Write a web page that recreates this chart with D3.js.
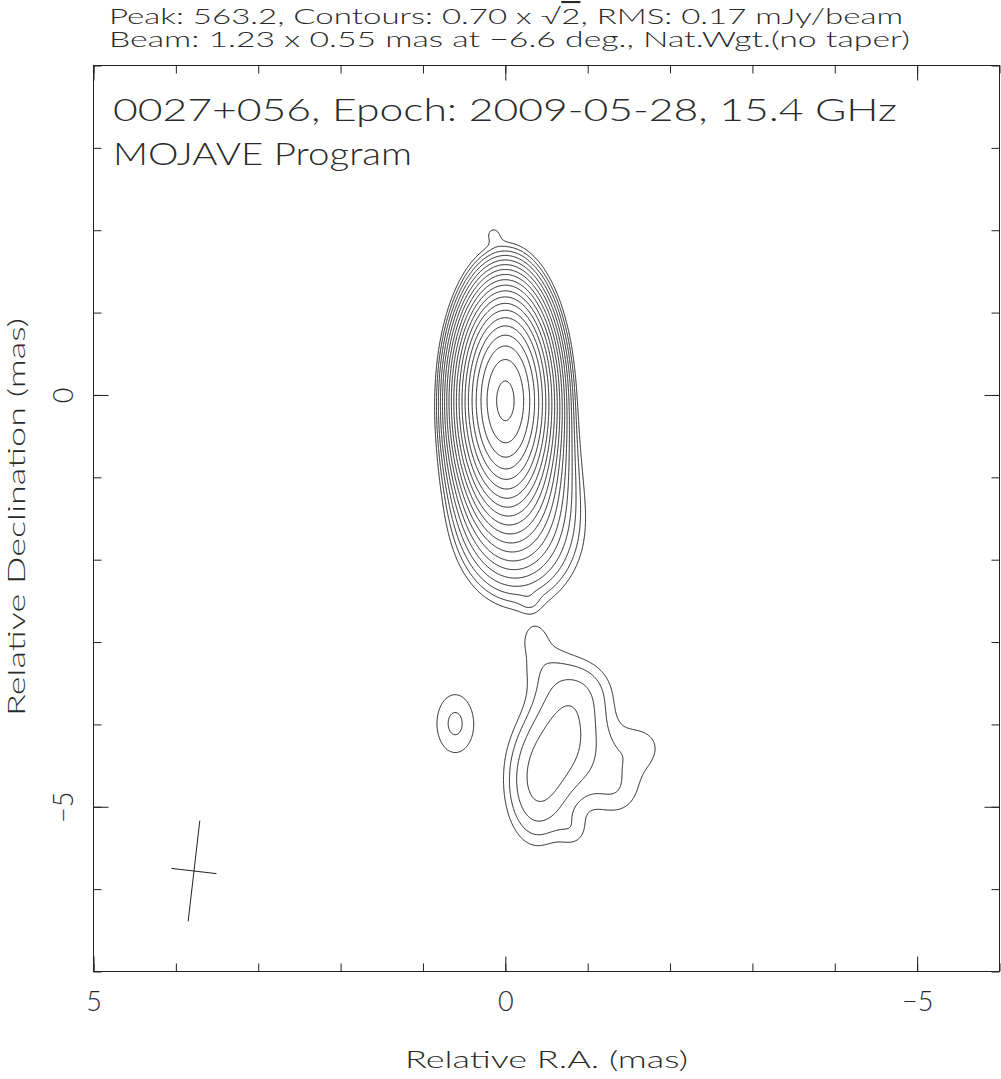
<!DOCTYPE html>
<html>
<head>
<meta charset="utf-8">
<script src="https://cdn.jsdelivr.net/npm/d3@7"></script>
<style>
  body { margin: 0; background: #fff; }
  svg text { font-family: "Lato", sans-serif; font-weight: 300; fill: #2a2a2a; }
</style>
</head>
<body>
<div class="container"></div>
<script>
// ---- data ----
const headerLines = [
  ["Peak: 563.2, Contours: 0.70 x \u221A", "2", ", RMS: 0.17 mJy/beam"],
  ["Beam: 1.23 x 0.55 mas at \u22126.6 deg., Nat.Wgt.(no taper)"]
];
const titleLines = ["0027+056, Epoch: 2009-05-28, 15.4 GHz", "MOJAVE Program"];
const xTitle = "Relative R.A. (mas)";
const yTitle = "Relative Declination (mas)";

const raDomain = [5, -6];
const decDomain = [4, -7];
const xMajor = [5, 0, -5];
const xMinor = d3.range(-6, 6);
const yMajor = [0, -5];
const yMinor = d3.range(-7, 5);

const peakFlux = 563.2;     // mJy/beam
const baseLevel = 0.70;     // lowest contour
const levelStep = Math.SQRT2;

// brightness components: [RA, Dec, peak mJy/beam, FWHM maj, FWHM min, PA deg]
const coreComps = [
  [0.00, -0.06, 555, 1.23, 0.55, 0],
  [-0.08, -0.92, 26, 1.23, 0.70, 0],
  [-0.20, -1.65, 3.0, 1.20, 1.00, 0],
  [0.15, 1.97, 0.55, 0.22, 0.22, 0],
  [-0.30, -2.52, 0.3, 0.20, 0.20, 0]
];
const jetComps = [
  [-0.75, -4.05, 1.7, 1.23, 0.70, 0],
  [-0.38, -4.72, 1.9, 1.23, 0.65, 0],
  [-1.35, -4.45, 0.7, 1.00, 1.00, 0],
  [-1.70, -4.25, 0.4, 0.50, 0.50, 0],
  [-1.35, -4.90, 0.45, 0.60, 0.60, 0],
  [-0.38, -3.20, 0.55, 0.70, 0.60, 0],
  [-0.36, -2.95, 0.35, 0.30, 0.25, 0],
  [-0.85, -5.32, 0.5, 0.40, 0.35, 0],
  [-1.05, -3.55, 0.55, 0.70, 0.70, 0]
];
const knotComps = [
  [0.61, -3.99, 1.05, 0.916, 0.575, 0]
];

const beamSize = [1.23, 0.55];
const beamPA = -6.6;
const beamCenter = [3.78, -5.78];

// ---- layout ----
const width = 1001, height = 1079;
const x = d3.scaleLinear().domain(raDomain).range([93.5, 999.5]);
const y = d3.scaleLinear().domain(decDomain).range([65.5, 971.5]);

const svg = d3.select(".container").append("svg")
  .attr("width", width)
  .attr("height", height)
  .attr("viewBox", [0, 0, width, height]);

const ink = "#222";
const fmt = d => d < 0 ? "\u2212" + (-d) : String(d);

// header (the "2" under the root sign gets its bar)
svg.append("g").selectAll("text")
  .data(headerLines)
  .join("text")
  .attr("x", 109)
  .attr("y", (d, i) => 24 + i * 23)
  .attr("font-size", 21)
  .attr("textLength", (d, i) => i === 0 ? 794 : 801)
  .attr("lengthAdjust", "spacingAndGlyphs")
  .selectAll("tspan")
  .data(d => d)
  .join("tspan")
  .style("text-decoration", (d, i) => i === 1 ? "overline" : null)
  .text(d => d);

// ticks on all four sides
function ticks(axis, tr, vals, size) {
  return svg.append("g")
    .attr("transform", tr)
    .call(axis.tickValues(vals).tickSize(size).tickFormat(""))
    .call(g => g.select(".domain").remove())
    .call(g => g.selectAll("line").attr("stroke", ink));
}
const atBottom = `translate(0,${y.range()[1]})`;
const atTop = `translate(0,${y.range()[0]})`;
const atLeft = `translate(${x.range()[0]},0)`;
const atRight = `translate(${x.range()[1]},0)`;

ticks(d3.axisBottom(x), atBottom, xMinor, -8);
ticks(d3.axisTop(x), atTop, xMinor, -8);
ticks(d3.axisLeft(y), atLeft, yMinor, -8);
ticks(d3.axisRight(y), atRight, yMinor, -8);
ticks(d3.axisTop(x), atTop, xMajor, -15);
ticks(d3.axisRight(y), atRight, yMajor, -15);

svg.append("g")
  .attr("transform", atBottom)
  .call(d3.axisBottom(x).tickValues(xMajor).tickSize(-15).tickPadding(20).tickFormat(fmt))
  .call(g => g.select(".domain").remove())
  .call(g => g.selectAll("line").attr("stroke", ink))
  .call(g => g.selectAll("text").attr("font-size", 27).attr("fill", null));

svg.append("g")
  .attr("transform", atLeft)
  .call(d3.axisLeft(y).tickValues(yMajor).tickSize(-15).tickFormat(fmt))
  .call(g => g.select(".domain").remove())
  .call(g => g.selectAll("line").attr("stroke", ink))
  .call(g => g.selectAll("text")
    .attr("x", null).attr("dy", null)
    .attr("font-size", 27).attr("fill", null)
    .attr("text-anchor", "middle")
    .attr("transform", "translate(-21,0) rotate(-90)"));

// frame
svg.append("rect")
  .attr("x", x.range()[0]).attr("y", y.range()[0])
  .attr("width", x.range()[1] - x.range()[0])
  .attr("height", y.range()[1] - y.range()[0])
  .attr("fill", "none").attr("stroke", ink).attr("stroke-width", 1);

// titles inside the frame
svg.append("g").selectAll("text")
  .data(titleLines)
  .join("text")
  .attr("x", 113)
  .attr("y", (d, i) => 121 + i * 44)
  .attr("font-size", 32)
  .attr("textLength", (d, i) => i === 0 ? 784 : 299)
  .attr("lengthAdjust", "spacingAndGlyphs")
  .text(d => d);

// axis titles
svg.append("text")
  .attr("x", 546.5).attr("y", 1068)
  .attr("text-anchor", "middle")
  .attr("font-size", 23)
  .attr("textLength", 283).attr("lengthAdjust", "spacingAndGlyphs")
  .text(xTitle);

svg.append("text")
  .attr("transform", "translate(25,517) rotate(-90)")
  .attr("text-anchor", "middle")
  .attr("font-size", 23)
  .attr("textLength", 398).attr("lengthAdjust", "spacingAndGlyphs")
  .text(yTitle);

// ---- brightness grid and contours ----
const comps = coreComps.concat(jetComps, knotComps);
const step = 0.01;
const gridRA = [2.5, -3.0];
const gridDec = [3.0, -6.5];
const nx = Math.round((gridRA[0] - gridRA[1]) / step) + 1;
const ny = Math.round((gridDec[0] - gridDec[1]) / step) + 1;
const k4 = 4 * Math.LN2;
const prepped = comps.map(([ra, dec, p, a, b, pa]) => {
  const t = pa * Math.PI / 180;
  return { ra, dec, p, ia: k4 / (a * a), ib: k4 / (b * b), s: Math.sin(t), c: Math.cos(t) };
});
const values = new Float64Array(nx * ny);
for (let j = 0; j < ny; j++) {
  const dec = gridDec[0] - j * step;
  for (let i = 0; i < nx; i++) {
    const ra = gridRA[0] - i * step;
    let v = 0;
    for (const q of prepped) {
      const dx = ra - q.ra, dy = dec - q.dec;
      const u = dx * q.s + dy * q.c;
      const w = dx * q.c - dy * q.s;
      const e = u * u * q.ia + w * w * q.ib;
      if (e < 30) v += q.p * Math.exp(-e);
    }
    values[j * nx + i] = v;
  }
}

const levels = [];
for (let v = baseLevel; v <= peakFlux; v *= levelStep) levels.push(v);

const contours = d3.contours().size([nx, ny]).thresholds(levels)(values);

const toPx = d3.geoTransform({
  point(px, py) {
    this.stream.point(x(gridRA[0] - (px - 0.5) * step), y(gridDec[0] - (py - 0.5) * step));
  }
});
const path = d3.geoPath(toPx);

svg.append("g")
  .attr("fill", "none")
  .attr("stroke", ink)
  .attr("stroke-width", 1)
  .selectAll("path")
  .data(contours)
  .join("path")
  .attr("d", path);

// ---- restoring beam cross ----
const t = beamPA * Math.PI / 180;
const majVec = [Math.sin(t), Math.cos(t)];
const minVec = [Math.cos(t), -Math.sin(t)];
const beamLines = [[beamSize[0], majVec], [beamSize[1], minVec]];
svg.append("g")
  .attr("stroke", ink)
  .attr("stroke-width", 1)
  .selectAll("line")
  .data(beamLines)
  .join("line")
  .attr("x1", ([L, v]) => x(beamCenter[0] + v[0] * L / 2))
  .attr("y1", ([L, v]) => y(beamCenter[1] + v[1] * L / 2))
  .attr("x2", ([L, v]) => x(beamCenter[0] - v[0] * L / 2))
  .attr("y2", ([L, v]) => y(beamCenter[1] - v[1] * L / 2));
</script>
</body>
</html>
